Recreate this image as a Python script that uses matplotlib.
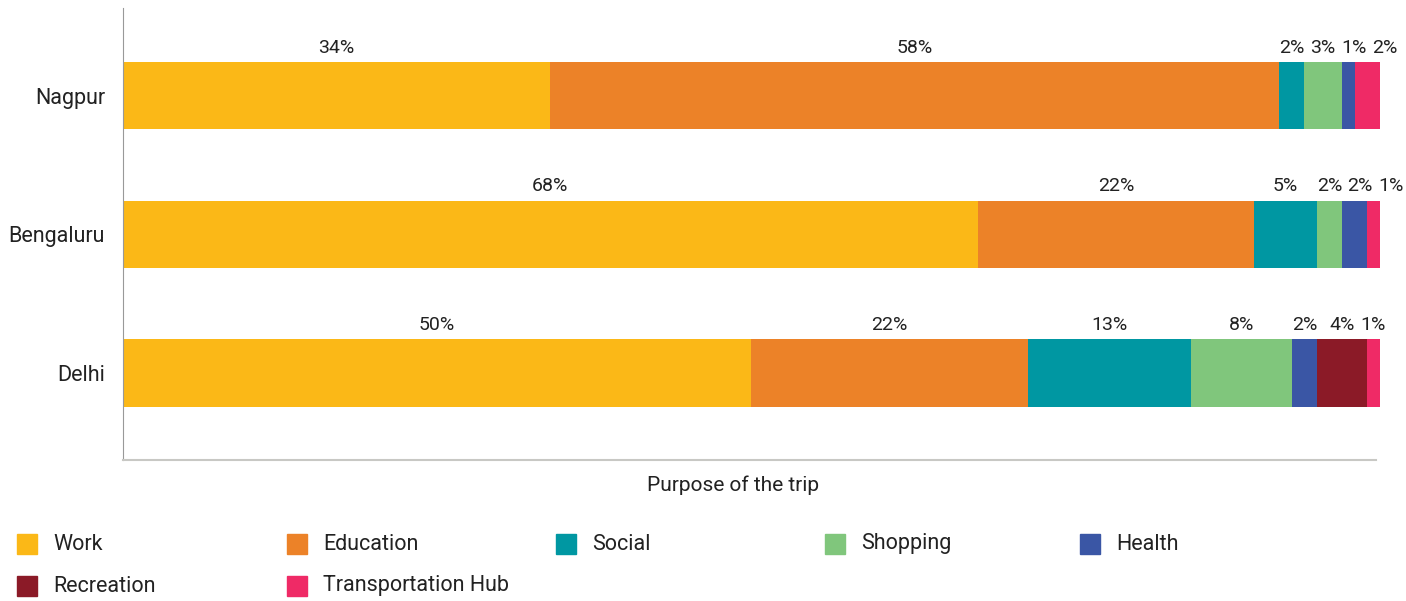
import matplotlib.pyplot as plt
from matplotlib.patches import Rectangle

plt.rcParams['font.family'] = ['Roboto', 'DejaVu Sans']

cities = ['Delhi', 'Bengaluru', 'Nagpur']
purposes = ['Work', 'Education', 'Social', 'Shopping', 'Health',
            'Recreation', 'Transportation Hub']
colors = ['#FBB817', '#EC8228', '#0097A2', '#80C67C', '#3A56A5',
          '#8B1A27', '#EF2A66']

# share of trips (%) per purpose, listed in the same order as cities
work = [50, 68, 34]
education = [22, 22, 58]
social = [13, 5, 2]
shopping = [8, 2, 3]
health = [2, 2, 1]
recreation = [4, 0, 0]
transport_hub = [1, 1, 2]
series = [work, education, social, shopping, health, recreation, transport_hub]

TEXT = '#222222'

fig = plt.figure(figsize=(14.06, 6.01), dpi=100)
ax = fig.add_axes([123 / 1406, 1 - 460 / 601, 1253 / 1406, 452 / 601])

ypos = range(len(cities))
left = [0] * len(cities)
label_spots = [[] for _ in cities]
for vals, col in zip(series, colors):
    ax.barh(ypos, vals, left=left, height=0.484, color=col, clip_on=False)
    for i, v in enumerate(vals):
        if v > 0:
            label_spots[i].append((left[i] + v / 2, v))
    left = [l + v for l, v in zip(left, vals)]

# percentage labels above each segment, nudged apart where segments are thin
min_gap = 2.45
for i, spots in enumerate(label_spots):
    prev = -10
    for cx, v in spots:
        x = max(cx, prev + min_gap)
        ax.annotate(f'{v}%', (x, i + 0.242), xytext=(0, 4),
                    textcoords='offset points', ha='center', va='bottom',
                    fontsize=14, color=TEXT, annotation_clip=False)
        prev = x

ax.set_xlim(0, 99.7)
ax.set_ylim(-0.628, 2.635)
ax.set_xticks([])
ax.set_yticks(list(ypos))
ax.set_yticklabels(cities, fontsize=15.5, color=TEXT)
ax.tick_params(axis='y', length=0, pad=13)
for side in ['top', 'right']:
    ax.spines[side].set_visible(False)
ax.spines['left'].set_color('#999999')
ax.spines['bottom'].set_color('#c8c8c4')
ax.spines['bottom'].set_linewidth(1.5)

fig.text(733 / 1406, 1 - 485 / 601, 'Purpose of the trip', ha='center',
         va='center', fontsize=15, color=TEXT)

# legend laid out in a fixed grid of five columns
col_x = [17, 287, 556, 825, 1080]
row_y = [544, 586]
for k, (name, col) in enumerate(zip(purposes, colors)):
    r, c = divmod(k, 5)
    x0 = col_x[c] / 1406
    yc = 1 - row_y[r] / 601
    fig.patches.append(Rectangle((x0, yc - 10 / 601), 20 / 1406, 20 / 601,
                                 transform=fig.transFigure, color=col))
    fig.text(x0 + 36 / 1406, yc, name, ha='left', va='center',
             fontsize=15.5, color=TEXT)

fig.savefig('out.png', dpi=100)
